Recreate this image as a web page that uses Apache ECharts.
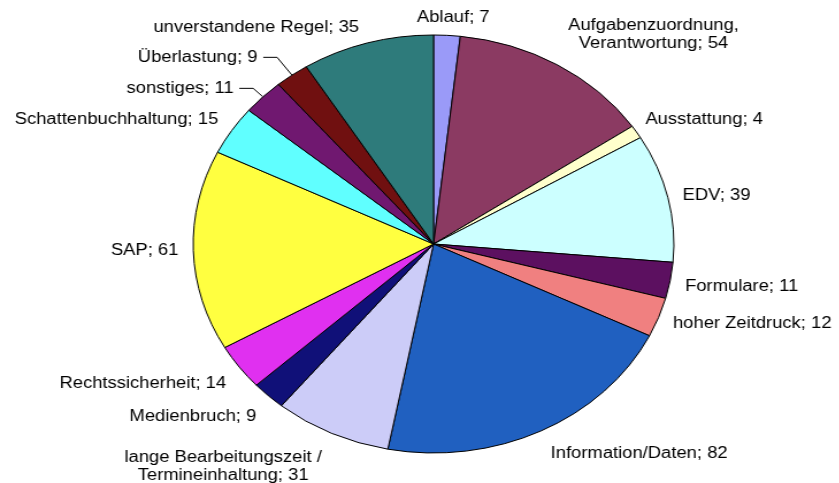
<!DOCTYPE html>
<html>
<head>
<meta charset="utf-8">
<script src="https://cdn.jsdelivr.net/npm/echarts@6/dist/echarts.min.js"></script>
<style>
  html, body { margin: 0; padding: 0; background: #fff; overflow: hidden; }
  /* the original picture is stretched sideways, so the chart is too */
  #chart { width: 730px; height: 483px; transform: scaleX(1.15); transform-origin: 0 0; }
</style>
</head>
<body>
<div id="chart"></div>
<script>
  var names = [
    'Ablauf',
    'Aufgabenzuordnung,\nVerantwortung',
    'Ausstattung',
    'EDV',
    'Formulare',
    'hoher Zeitdruck',
    'Information/Daten',
    'lange Bearbeitungszeit /\nTermineinhaltung',
    'Medienbruch',
    'Rechtssicherheit',
    'SAP',
    'Schattenbuchhaltung',
    'sonstiges',
    'Überlastung',
    'unverstandene Regel'
  ];
  var values = [7, 54, 4, 39, 11, 12, 82, 31, 9, 14, 61, 15, 11, 9, 35];
  var colors = [
    '#9a9af8', '#8b3a62', '#ffffcc', '#ccffff', '#5c1060',
    '#f08080', '#2060c0', '#ccccf8', '#101078', '#e030f0',
    '#ffff40', '#60ffff', '#701870', '#701010', '#2e7b7b'
  ];

  // small nudges of the labels, like the hand placed ones in the original
  var labelDy = [-10, -24, -8, 0, 5, 3, 15, 26, 15, 12, 0, -7, 0, 0, -8];

  var myChart = echarts.init(document.getElementById('chart'));

  var data = names.map(function (n, i) {
    var item = { name: n, value: values[i] };
    // only these two have leader lines in the original
    if (n === 'sonstiges') {
      item.labelLine = { show: true, length: 12, length2: 12 };
    }
    if (n === 'Überlastung') {
      item.labelLine = { show: true, length: 22, length2: 12 };
    }
    return item;
  });

  var option = {
    backgroundColor: '#fff',
    animation: false,
    series: [{
      type: 'pie',
      center: [377, 244],
      radius: 209,
      startAngle: 90,
      clockwise: true,
      avoidLabelOverlap: false,
      data: data,
      color: colors,
      itemStyle: {
        borderColor: '#000',
        borderWidth: 1
      },
      label: {
        show: true,
        position: 'outside',
        formatter: '{b}; {c}',
        color: '#000',
        fontFamily: 'Liberation Sans, Arial, sans-serif',
        fontSize: 16,
        lineHeight: 18
      },
      labelLine: {
        show: false,
        length: 8,
        length2: 0,
        smooth: false,
        lineStyle: { color: '#000', width: 1 }
      },
      labelLayout: function (params) {
        var r = params.labelRect;
        var i = params.dataIndex;
        var res = { dy: labelDy[i] };
        if (i === 0) {
          res.x = r.x;
          res.align = 'center';
        }
        if (i === 1 || i === 7) {
          res.x = r.x + r.width / 2;
          res.align = 'center';
        }
        if (i === 2) {
          res.dx = -4;
        }
        return res;
      }
    }]
  };
  myChart.setOption(option);
</script>
</body>
</html>
